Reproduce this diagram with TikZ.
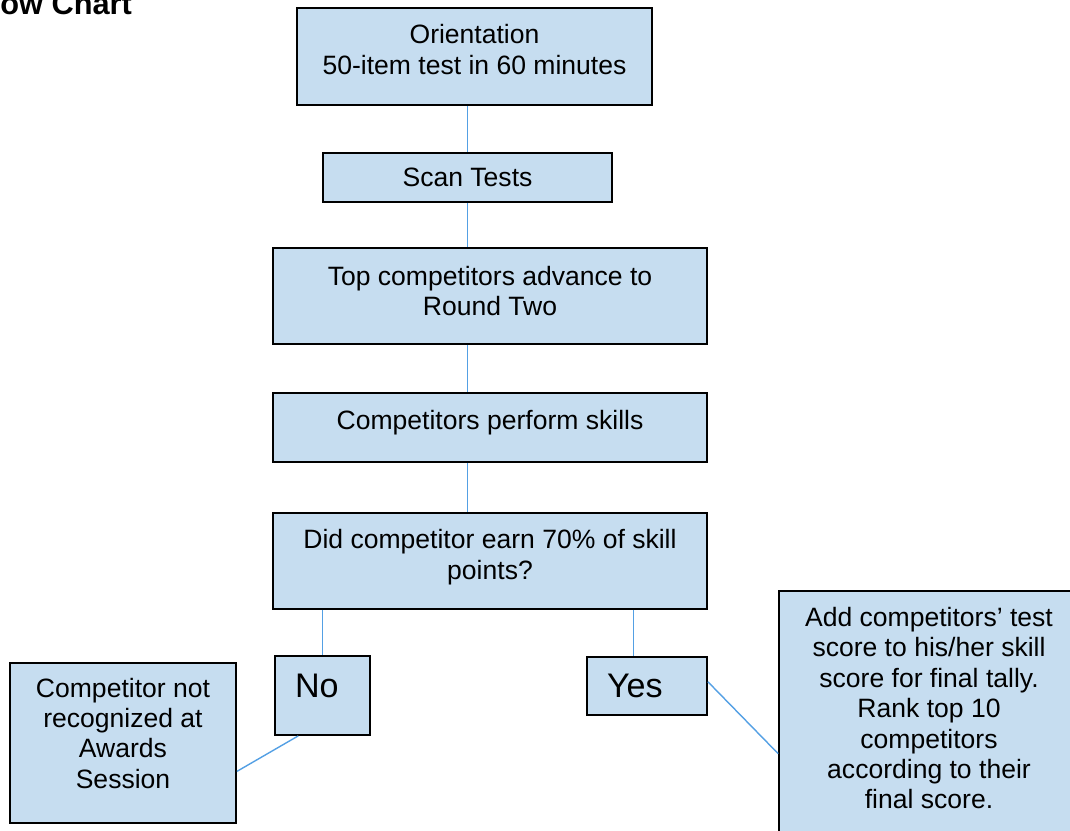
\documentclass[tikz,border=0pt]{standalone}
\usepackage{fontspec}
\setmainfont{Liberation Sans}
\usepackage{xcolor}
\usepackage{tikz}
\usetikzlibrary{positioning}
\definecolor{boxblue}{RGB}{198,221,240}
\definecolor{lineblue}{RGB}{84,160,228}

\begin{document}
\begin{tikzpicture}[
    flowbox/.style={rectangle, draw=black, fill=boxblue, line width=1pt, align=center, inner sep=2pt, font=\fontsize{15.1}{17.3}\selectfont},
    answer/.style={rectangle, draw=black, fill=boxblue, line width=1pt, align=left, inner xsep=0.4cm, inner ysep=2pt, font=\fontsize{19.4}{22}\selectfont},
    link/.style={draw=lineblue, line width=0.8pt}
]
    \clip (0,0) rectangle (21.4,-16.6);

    % Title
    \node[anchor=base west, inner sep=0pt, font=\bfseries\fontsize{17.5}{20}\selectfont] (title) at (0,-0.3) {ow Chart};

    % Main column
    \node[flowbox, minimum width=7.1cm, minimum height=1.94cm, text depth=0.28cm] (orient) at (9.49,-1.13) {Orientation\\50-item test in 60 minutes};
    \node[flowbox, minimum width=5.78cm, minimum height=0.98cm] (scan) at (9.35,-3.55) {Scan Tests};
    \node[flowbox, minimum width=8.68cm, minimum height=1.92cm, text depth=0.2cm] (top) at (9.8,-5.92) {Top competitors advance to\\Round Two};
    \node[flowbox, minimum width=8.68cm, minimum height=1.38cm, text depth=0.31cm] (perform) at (9.8,-8.55) {Competitors perform skills};
    \node[flowbox, minimum width=8.68cm, minimum height=1.92cm, text depth=0.27cm] (did) at (9.8,-11.22) {Did competitor earn 70\% of skill\\points?};

    % Answers
    \node[answer, text width=1.1cm, minimum height=1.58cm, text depth=0.4cm] (no) at (6.45,-13.91) {No};
    \node[answer, text width=1.6cm, minimum height=1.16cm] (yes) at (12.94,-13.72) {Yes};

    % Results
    \node[flowbox, minimum width=4.52cm, minimum height=3.2cm, text depth=0.4cm] (notrec) at (2.46,-14.86) {Competitor not\\recognized at\\Awards\\Session};
    \node[flowbox, minimum width=6cm, minimum height=5cm, text depth=0.32cm] (final) at (18.58,-14.32) {Add competitors’ test\\score to his/her skill\\score for final tally.\\Rank top 10\\competitors\\according to their\\final score.};

    % Connectors
    \draw[link] (orient.south -| scan.north) -- (scan.north);
    \draw[link] (scan.south) -- (scan.south |- top.north);
    \draw[link] (top.south -| scan.south) -- (perform.north -| scan.south);
    \draw[link] (perform.south -| scan.south) -- (did.north -| scan.south);
    \draw[link] (did.south -| no.north) -- (no.north);
    \draw[link] (did.south -| yes.114) -- (yes.114);
    \draw[link] (no.239) -- (notrec.-14);
    \draw[link] (yes.4) -- (final.194);
\end{tikzpicture}
\end{document}
